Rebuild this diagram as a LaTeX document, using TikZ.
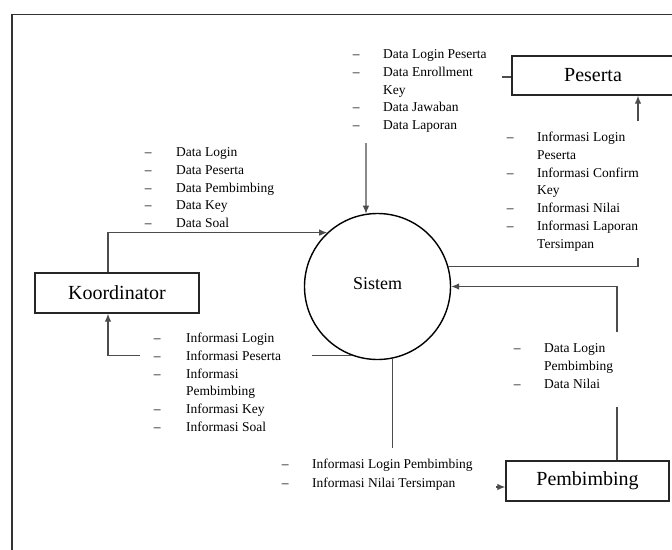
\documentclass[tikz,border=0pt]{standalone}
\usepackage{fontspec}
\setmainfont{Liberation Serif}
\usetikzlibrary{arrows.meta}
\newcommand\lstfont{\fontsize{13.5}{17.8}\selectfont}
\begin{document}
\begin{tikzpicture}[x=1pt,y=-1pt,
  box/.style={draw=black!85, line width=1.4pt, minimum width=163pt, minimum height=40pt, inner sep=0pt, font=\fontsize{20}{24}\selectfont, text=black},
  flow/.style={draw=black!70, line width=1.1pt},
  arr/.style={flow, -{Latex[length=8pt,width=6.5pt]}},
  lst/.style={anchor=base west, inner sep=0pt, font=\lstfont, text=black}]
\useasboundingbox (0,0) rectangle (672,549);
\clip (0,0) rectangle (672,549);
\fill[white] (0,0) rectangle (672,549);
\draw[line width=1.5pt, black!80] (12,560) -- (12,14.5) -- (690,14.5);

% process and entities
\node[circle, draw=black, line width=1.4pt, minimum size=146pt, inner sep=0pt, font=\fontsize{18}{22}\selectfont] (sis) at (377.5,286.5) {\raisebox{5pt}{Sistem}};
\node[box, minimum width=164pt] (koor) at (117,293) {\raisebox{1.5pt}{Koordinator}};
\node[box, minimum width=162pt, minimum height=39pt] (pes) at (593,75.5) {Peserta};
\node[box] (pemb) at (587.5,481) {\raisebox{1.5pt}{Pembimbing}};

% labels
\node[lst] (la) at (352.6,58.5) {\begin{tabular}[t]{@{}p{30.4pt}@{}l@{}}
– & Data Login Peserta\\ – & Data Enrollment\\ & Key\\ – & Data Jawaban\\ – & Data Laporan\end{tabular}};
\node[lst] (lb) at (506.6,141.5) {\begin{tabular}[t]{@{}p{30.4pt}@{}l@{}}
– & Informasi Login\\ & Peserta\\ – & Informasi Confirm\\ & Key\\ – & Informasi Nilai\\ – & Informasi Laporan\\ & Tersimpan\end{tabular}};
\node[lst] (lc) at (144.6,156.5) {\begin{tabular}[t]{@{}p{31.4pt}@{}l@{}}
– & Data Login\\ – & Data Peserta\\ – & Data Pembimbing\\ – & Data Key\\ – & Data Soal\end{tabular}};
\node[lst] (ld) at (153.6,342.5) {\begin{tabular}[t]{@{}p{32.4pt}@{}l@{}}
– & Informasi Login\\ – & Informasi Peserta\\ – & Informasi\\ & Pembimbing\\ – & Informasi Key\\ – & Informasi Soal\end{tabular}};
\node[lst] (le) at (513.6,352.5) {\begin{tabular}[t]{@{}p{30.4pt}@{}l@{}}
– & Data Login\\ & Pembimbing\\ – & Data Nilai\end{tabular}};
\node[lst] (lf) at (281.6,468.5) {\begin{tabular}[t]{@{}p{30.4pt}@{}l@{}}
– & Informasi Login Pembimbing\\[1pt] – & Informasi Nilai Tersimpan\end{tabular}};

% Koordinator flows
\draw[arr] ([xshift=-9pt]koor.north) |- (sis.133);
\coordinate (kl1) at (312,355);
\coordinate (kl2) at (140,355);
\draw[flow] (sis.250) -- (kl1 |- sis.250);
\draw[arr] (kl2 |- sis.250) -| ([xshift=-9pt]koor.south);

% Peserta flows
\coordinate (tp) at (366,143);
\draw[arr] (tp) -- (sis.99);
\coordinate (ps) at (502,77);
\draw[flow] (ps) -- (ps -| pes.west);
\coordinate (pu) at (638,121);
\draw[arr] (pu) -- (pu |- pes.south);
\coordinate (pd) at (638,258);
\draw[flow] (sis.16) -| (pd);

% Pembimbing flows
\coordinate (bu) at (617,332);
\draw[arr] (bu) |- (sis.east);
\coordinate (bl) at (617,407);
\draw[flow] (bl) -- (bl |- pemb.north);
\coordinate (sd) at (393,448);
\draw[flow] (sis.282) -- (sis.282 |- sd);
\coordinate (pa) at (496,487);
\draw[arr] (pa) -- (pa -| pemb.west);
\end{tikzpicture}
\end{document}
